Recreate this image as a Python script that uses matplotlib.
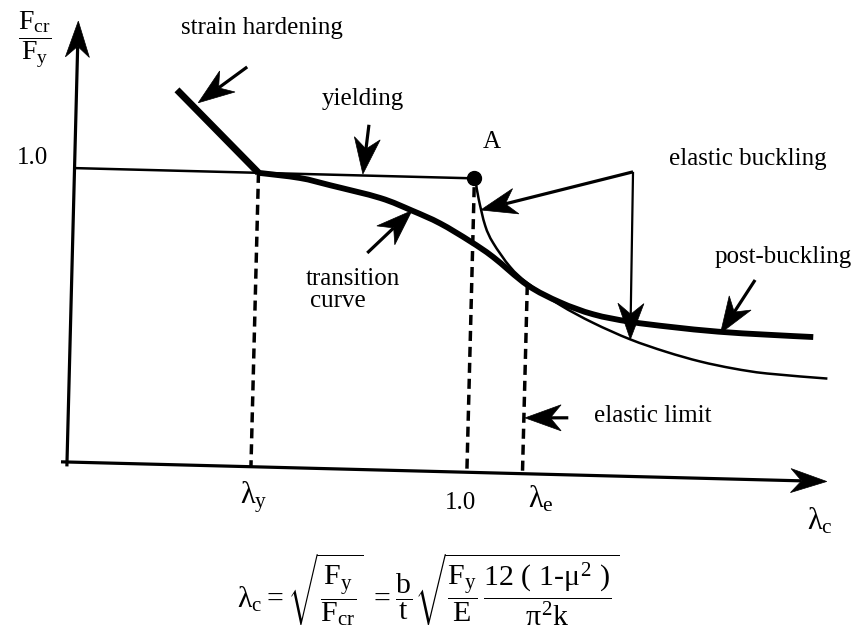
import numpy as np
import matplotlib
matplotlib.use('Agg')
import matplotlib.pyplot as plt
from matplotlib.patches import Polygon, PathPatch
from matplotlib.path import Path
from matplotlib.transforms import Affine2D

plt.rcParams['font.family'] = ['Liberation Serif', 'DejaVu Serif']
plt.rcParams['mathtext.fontset'] = 'custom'
plt.rcParams['mathtext.rm'] = 'Liberation Serif'
plt.rcParams['mathtext.it'] = 'Liberation Serif'
plt.rcParams['mathtext.bf'] = 'Liberation Serif:bold'

# diagram coordinates: x = slenderness lambda_c, y = Fcr / Fy
lam_y = 0.46
lam_one = 1.0
lam_e = 1.139

# strain hardening branch
hard_lam = [0.251, lam_y]
hard_f = [1.275, 1.0]

# yield plateau up to point A
yield_lam = [0.005, lam_one]
yield_f = [1.0, 1.0]

# inelastic transition curve
trans_lam = [lam_y, 0.564, 0.640, 0.766, 0.846, 0.917, 0.993, 1.052, lam_e]
trans_f = [1.0, 0.986, 0.964, 0.925, 0.885, 0.844, 0.786, 0.734, 0.642]

# post-buckling strength
post_lam = [lam_e, 1.222, 1.306, 1.398, 1.50, 1.619, 1.74, 1.857]
post_f = [0.642, 0.586, 0.548, 0.526, 0.512, 0.500, 0.494, 0.490]

# elastic buckling curve from A
elas_lam = [1.004, 1.012, 1.030, 1.051, 1.095, lam_e, 1.222, 1.306, 1.400,
            1.490, 1.576, 1.660, 1.744, 1.895]
elas_f = [0.985, 0.930, 0.840, 0.782, 0.702, 0.649, 0.577, 0.519, 0.466,
          0.427, 0.397, 0.376, 0.362, 0.350]

# dashed verticals down to the axis
dash_lam = [lam_y, lam_one, lam_e]
dash_top = [1.0, 0.97, 0.642]

# annotation arrows (tail, tip)
arrows = {
    'strain': ((0.425, 1.359), (0.305, 1.233)),
    'yield': ((0.733, 1.173), (0.721, 1.005)),
    'transition': ((0.737, 0.737), (0.846, 0.885)),
    'buckle_a': ((1.396, 1.036), (1.018, 0.893)),
    'buckle_b': ((1.396, 1.036), (1.400, 0.466)),
    'post': ((1.708, 0.679), (1.625, 0.495)),
    'limit': ((1.250, 0.194), (1.142, 0.190)),
}

fig = plt.figure(figsize=(8.61, 6.34), dpi=100)
ax = fig.add_axes([0, 0, 1, 1])
ax.set_xlim(0, 861)
ax.set_ylim(634, 0)
ax.axis('off')

# diagram units -> page units (slightly tilted scan)
diag = Affine2D().scale(400, -294).rotate_deg(1.47).translate(67, 462)
T = diag + ax.transData


def smooth(xs, ys):
    # cubic Bezier segments through the given points (Catmull-Rom tangents)
    pts = np.column_stack([xs, ys])
    verts = [pts[0]]
    codes = [Path.MOVETO]
    for i in range(len(pts) - 1):
        p0 = pts[i - 1] if i > 0 else pts[i]
        p1, p2 = pts[i], pts[i + 1]
        p3 = pts[i + 2] if i + 2 < len(pts) else pts[i + 1]
        verts += [p1 + (p2 - p0) / 6, p2 - (p3 - p1) / 6, p2]
        codes += [Path.CURVE4] * 3
    return Path(verts, codes)


def curve(xs, ys, lw):
    ax.add_patch(PathPatch(smooth(xs, ys), fill=False, lw=lw, edgecolor='black',
                           capstyle='butt', joinstyle='round', transform=T))


def arrow(tail, tip, lw=2.2, head_len=36, head_w=13, notch=0.7):
    p0 = diag.transform(tail)
    p1 = diag.transform(tip)
    u = (p1 - p0) / np.hypot(*(p1 - p0))
    n = np.array([-u[1], u[0]])
    back = p1 - head_len * u
    mid = p1 - notch * head_len * u
    ax.plot([p0[0], mid[0]], [p0[1], mid[1]], color='black', lw=lw,
            solid_capstyle='butt')
    ax.add_patch(Polygon([p1, back + head_w * n, mid, back - head_w * n],
                         closed=True, facecolor='black', edgecolor='black', lw=0.5))


# axes
arrow((-0.015, 0.0), (1.9, 0.0), lw=2.3, head_len=36, head_w=12)
arrow((0.0, -0.015), (0.0, 1.5), lw=2.3, head_len=36, head_w=12)

# curves
ax.plot(yield_lam, yield_f, color='black', lw=1.8, transform=T)
ax.plot(hard_lam, hard_f, color='black', lw=5.0, solid_capstyle='butt', transform=T)
curve(trans_lam + post_lam[1:], trans_f + post_f[1:], 4.2)
curve(elas_lam, elas_f, 1.8)

for lx, top in zip(dash_lam, dash_top):
    ax.plot([lx, lx], [top, 0.0], color='black', lw=2.5,
            linestyle=(0, (2.9, 1.7)), transform=T)

# point A
ax.plot([lam_one], [1.0], 'o', color='black', ms=10, transform=T)

for key, (tail, tip) in arrows.items():
    lw = 1.6 if key == 'buckle_b' else 2.3
    arrow(tail, tip, lw=lw)

fs = 18
ax.text(262, 34, 'strain hardening', fontsize=fs, ha='center', va='baseline')
ax.text(363, 105, 'yielding', fontsize=fs, ha='center', va='baseline')
ax.text(492, 148, 'A', fontsize=fs, ha='center', va='baseline')
ax.text(748, 165, 'elastic buckling', fontsize=fs, ha='center', va='baseline')
ax.text(353, 285, 'transition', fontsize=fs, ha='center', va='baseline')
ax.text(338, 307, 'curve', fontsize=fs, ha='center', va='baseline')
ax.text(783, 263, 'post-buckling', fontsize=fs, ha='center', va='baseline')
ax.text(653, 422, 'elastic limit', fontsize=fs, ha='center', va='baseline')

ax.text(32, 158, '1.0', fontsize=fs, ha='center', va='center')
ax.text(35, 40, r'$\dfrac{F_{cr}}{F_y}$', fontsize=20, ha='center', va='center')

ax.text(254, 497, r'$\lambda_y$', fontsize=22, ha='center', va='center')
ax.text(460, 503, '1.0', fontsize=fs, ha='center', va='center')
ax.text(541, 499, r'$\lambda_e$', fontsize=22, ha='center', va='center')
ax.text(820, 521, r'$\lambda_c$', fontsize=22, ha='center', va='center')

ax.text(428, 590,
        r'$\lambda_c = \sqrt{\dfrac{F_y}{F_{cr}}}\ = \dfrac{b}{t}\sqrt{\dfrac{F_y}{E}\,'
        r'\dfrac{12\ (\ 1\text{-}\mu^2\ )}{\pi^2 k}}$',
        fontsize=21.5, ha='center', va='center')

fig.savefig('out.png', dpi=100)
